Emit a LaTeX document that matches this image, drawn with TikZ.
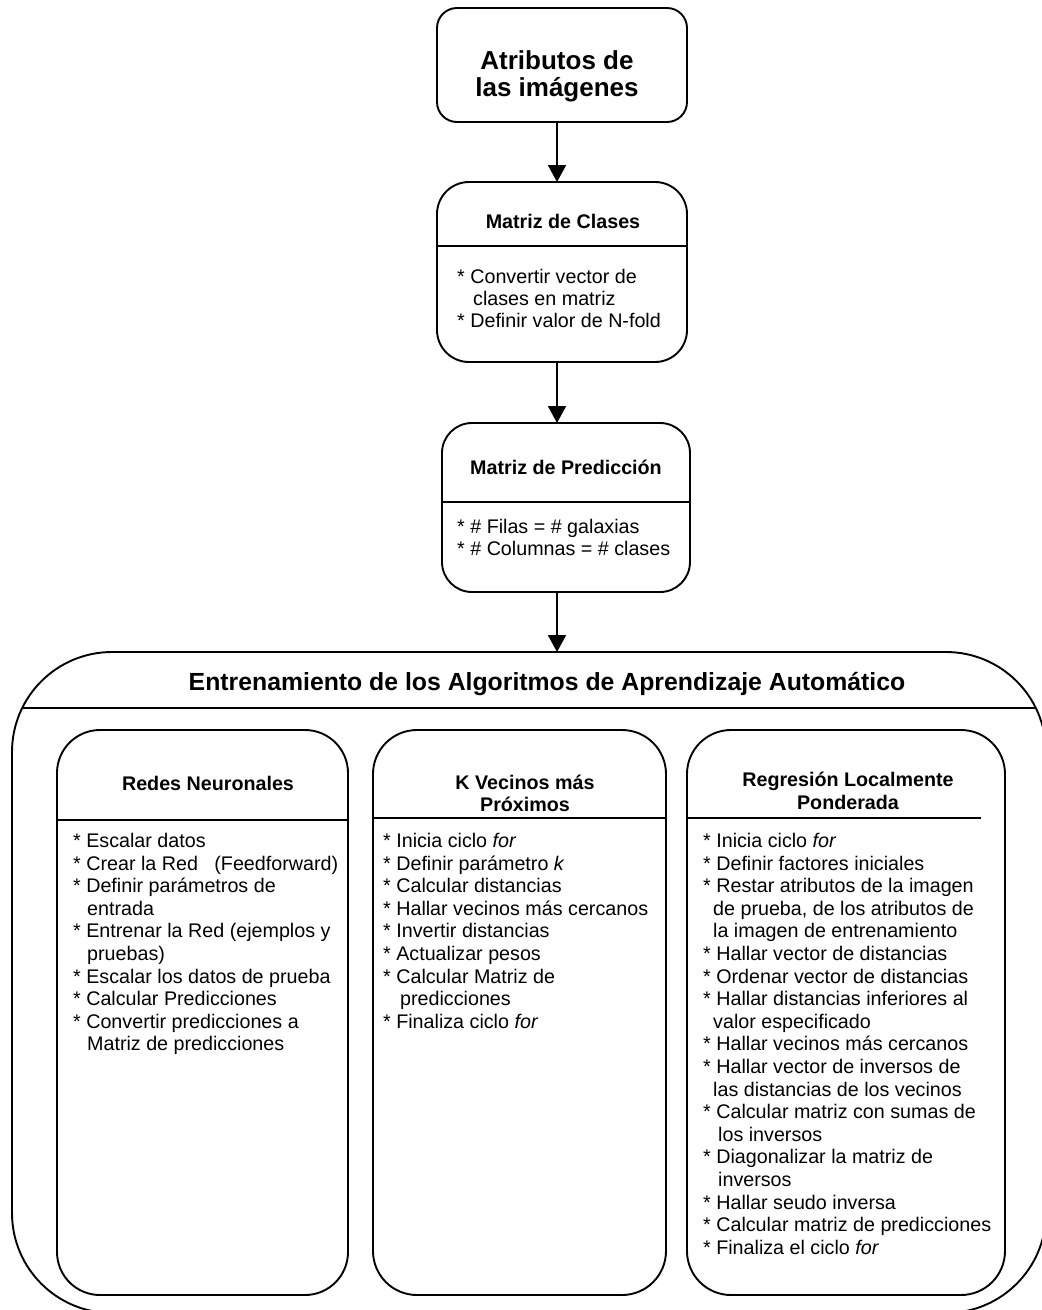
\documentclass[tikz,border=0pt]{standalone}
\usepackage{fontspec}
\setmainfont{Liberation Sans}
\usepackage{tikz}
\usetikzlibrary{arrows.meta, positioning, calc}

% hanging indent for wrapped list lines
\newcommand{\wrapin}[1][14pt]{\hspace*{#1}}

\begin{document}
\begin{tikzpicture}[x=1pt, y=-1pt,
  box/.style={draw, line width=1.9pt, inner sep=0pt, outer sep=0pt},
  hline/.style={path picture={\draw[line width=1.9pt]
      ([yshift=-#1]path picture bounding box.north west) --
      ([yshift=-#1]path picture bounding box.north east);}},
  head/.style={font=\fontsize{19.7}{22.5}\selectfont\bfseries, align=center, inner sep=0pt},
  body/.style={font=\fontsize{19.7}{22.6}\selectfont, align=left, anchor=north west, inner sep=0pt},
  arr/.style={-{Triangle[width=18pt, length=17pt]}, line width=1.9pt},
]
  \useasboundingbox (0,0) rectangle (1042,1310);

  % pipeline boxes
  \node[box, rounded corners=20pt, minimum width=250pt, minimum height=114pt] (attr) at (562,65) {};
  \node[head, font=\fontsize{26}{27}\selectfont\bfseries] (attrt) at (557,76) {Atributos de\\las imágenes};

  \node[box, rounded corners=32pt, minimum width=250pt, minimum height=180pt, hline=64pt] (clases) at (562,272) {};
  \node[head] (clasest) at ([xshift=1pt, yshift=-39pt]clases.north) {Matriz de Clases};
  \node[body, font=\fontsize{19.7}{22}\selectfont] (clasesb) at ([xshift=20pt, yshift=-87pt]clases.north west)
    {* Convertir vector de\\ \wrapin[16pt]clases en matriz\\* Definir valor de N-fold};

  \node[box, rounded corners=30pt, minimum width=248pt, minimum height=169pt, hline=79pt] (pred) at (566,507.5) {};
  \node[head] (predt) at ([yshift=-44pt]pred.north) {Matriz de Predicción};
  \node[body, font=\fontsize{19.7}{22}\selectfont] (predb) at ([xshift=15pt, yshift=-96pt]pred.north west)
    {* \# Filas = \# galaxias\\* \# Columnas = \# clases};

  % training block
  \node[box, rounded corners=100pt, minimum width=1034pt, minimum height=661pt, hline=56pt] (train) at (529,982.5) {};
  \node[head, font=\fontsize{24.8}{26}\selectfont\bfseries] (traint) at (547,684.5)
    {Entrenamiento de los Algoritmos de Aprendizaje Automático};

  \node[box, rounded corners=43pt, minimum width=291pt, minimum height=565pt, hline=90pt] (redes) at (202.5,1012.5) {};
  \node[head] (redest) at (208,783) {Redes Neuronales};
  \node[body] (redesb) at ([xshift=16pt, yshift=-103pt]redes.north west)
    {* Escalar datos\\
     * Crear la Red \ \ (Feedforward)\\
     * Definir parámetros de\\ \wrapin entrada\\
     * Entrenar la Red (ejemplos y\\ \wrapin pruebas)\\
     * Escalar los datos de prueba\\
     * Calcular Predicciones\\
     * Convertir predicciones a\\ \wrapin Matriz de predicciones};

  \node[box, rounded corners=44pt, minimum width=293pt, minimum height=565pt, hline=88pt] (knn) at (519.5,1012.5) {};
  \node[head] (knnt) at (525,793.5) {K Vecinos más\\Próximos};
  \node[body] (knnb) at ([xshift=10pt, yshift=-103pt]knn.north west)
    {* Inicia ciclo \textit{for}\\
     * Definir parámetro \textit{k}\\
     * Calcular distancias\\
     * Hallar vecinos más cercanos\\
     * Invertir distancias\\
     * Actualizar pesos\\
     * Calcular Matriz de\\ \wrapin[17pt]predicciones\\
     * Finaliza ciclo \textit{for}};

  \node[box, rounded corners=44pt, minimum width=318pt, minimum height=565pt] (rlp) at (846,1012.5) {};
  \draw[line width=1.9pt] ([yshift=-88pt]rlp.north west) -- ([xshift=-24pt, yshift=-88pt]rlp.north east);
  \node[head] (rlpt) at (848,791) {Regresión Localmente\\Ponderada};
  \node[body] (rlpb) at ([xshift=16pt, yshift=-103pt]rlp.north west)
    {* Inicia ciclo \textit{for}\\
     * Definir factores iniciales\\
     * Restar atributos de la imagen\\ \wrapin[10pt]de prueba, de los atributos de\\ \wrapin[10pt]la imagen de entrenamiento\\
     * Hallar vector de distancias\\
     * Ordenar vector de distancias\\
     * Hallar distancias inferiores al\\ \wrapin[10pt]valor especificado\\
     * Hallar vecinos más cercanos\\
     * Hallar vector de inversos de\\ \wrapin[10pt]las distancias de los vecinos\\
     * Calcular matriz con sumas de\\ \wrapin[15pt]los inversos\\
     * Diagonalizar la matriz de\\ \wrapin[15pt]inversos\\
     * Hallar seudo inversa\\
     * Calcular matriz de predicciones\\
     * Finaliza el ciclo \textit{for}};

  % flow
  \draw[arr] ([xshift=-5pt]attr.south) -- ([xshift=-5pt]attr.south |- clases.north);
  \draw[arr] ([xshift=-5pt]clases.south) -- ([xshift=-5pt]clases.south |- pred.north);
  \draw[arr] ([xshift=-9pt]pred.south) -- ([xshift=-9pt]pred.south |- train.north);
\end{tikzpicture}
\end{document}
